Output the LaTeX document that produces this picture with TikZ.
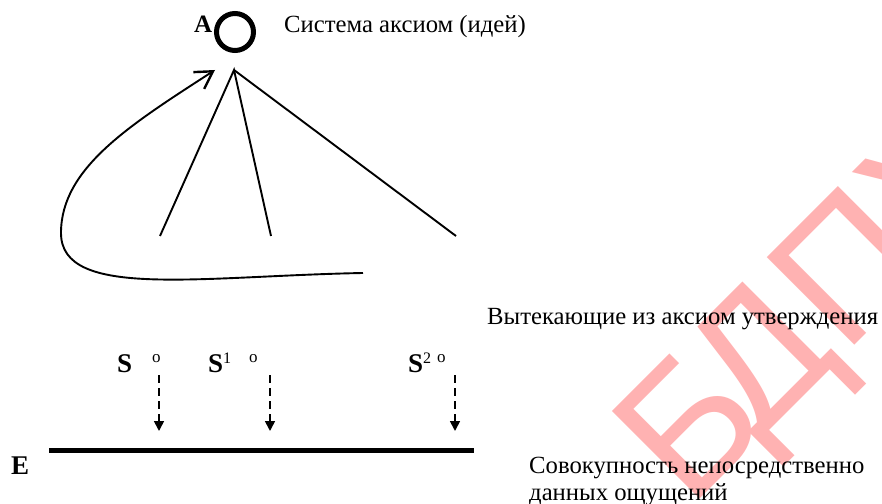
\documentclass[tikz,border=0pt]{standalone}
\usepackage{fontspec}
\setmainfont{Liberation Serif}
\newfontfamily\wmfont{Liberation Sans}
\usetikzlibrary{arrows.meta}
\begin{document}
\begin{tikzpicture}[x=1bp,y=-1bp,
  txt/.style={inner sep=0pt, anchor=base west, font=\fontsize{24.7bp}{28bp}\selectfont},
  lbl/.style={inner sep=0pt, anchor=base west, font=\fontsize{27bp}{28bp}\selectfont\bfseries},
  supo/.style={inner sep=0pt, anchor=base west, font=\fontsize{17bp}{18bp}\selectfont},
  thin/.style={line width=1.9bp},
  dasharr/.style={line width=1.7bp, dash pattern=on 8bp off 5bp, -{Triangle[length=10bp,width=10bp]}},
  curvearr/.style={line width=1.9bp, -{Straight Barb[length=17bp,width=20bp,line width=2.4bp]}},
  wmark/.style={rotate=45, anchor=base west, inner sep=0pt, text=red!30,
      font=\wmfont\fontsize{180bp}{180bp}\selectfont}
]
\useasboundingbox (0,0) rectangle (882,504);
\clip (0,0) rectangle (882,504);
\fill[white] (0,0) rectangle (882,504);
% watermark
\node[wmark] (wb) at (689,510) {Б};
\node[wmark] (wd) at (757,443) {Д};
\node[wmark] (wp) at (844,356) {П};
\node[wmark] (wu) at (936,264) {У};
% axiom system
\node[circle, draw, line width=5bp, minimum size=37bp, inner sep=0pt] (ao) at (235,32) {};
\node[lbl, font=\fontsize{25bp}{28bp}\selectfont\bfseries] (alab) at (194,33) {A};
\node[txt] (sys) at (284,33) {Система аксиом (идей)};
% tree lines
\coordinate (apex) at (234,70);
\coordinate (e0) at (160,236);
\coordinate (e1) at (271,236);
\coordinate (e2) at (456,236);
\draw[thin] (e0) -- (apex) -- (e1);
\draw[thin] (apex) -- (e2);
% curved return arrow
\coordinate (cs) at (363,273);
\coordinate (cm) at (61,233);
\coordinate (ct) at (215,70);
\draw[curvearr] (cs) .. controls (200,276) and (61,300) .. (cm)
                     .. controls (61,168) and (130,125) .. (ct);
% statements
\node[txt] (vyt) at (487,325) {Вытекающие из аксиом утверждения};
\node[lbl] (s0) at (117,372) {S};
\node[supo] (o0) at (152,362) {o};
\node[lbl] (s1) at (208,372) {S\raisebox{9bp}{\fontsize{16bp}{18bp}\selectfont\mdseries 1}};
\node[supo] (o1) at (249,362) {o};
\node[lbl] (s2) at (408,372) {S\raisebox{9bp}{\fontsize{16bp}{18bp}\selectfont\mdseries 2}};
\node[supo] (o2) at (437,362) {o};
% dashed arrows
\coordinate (d0a) at (159,375); \coordinate (d0b) at (159,431);
\coordinate (d1a) at (270,375); \coordinate (d1b) at (270,431);
\coordinate (d2a) at (455,375); \coordinate (d2b) at (455,431);
\draw[dasharr] (d0a) -- (d0b);
\draw[dasharr] (d1a) -- (d1b);
\draw[dasharr] (d2a) -- (d2b);
% E line
\coordinate (la) at (49,450);
\coordinate (lb) at (474,450);
\draw[line width=5bp] (la) -- (lb);
\node[lbl, font=\fontsize{27bp}{28bp}\selectfont\bfseries] (elab) at (11,474) {E};
\node[txt] (sov) at (529,473) {Совокупность непосредственно};
\node[txt] (dan) at (529,500) {данных ощущений};
\end{tikzpicture}
\end{document}
